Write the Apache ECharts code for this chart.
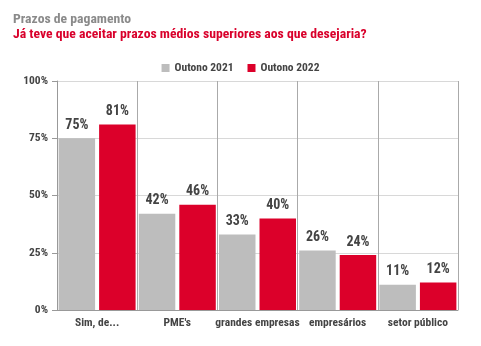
<!DOCTYPE html>
<html><head><meta charset="utf-8">
<script src="https://cdn.jsdelivr.net/npm/echarts@6/dist/echarts.min.js"></script>
<style>html,body{margin:0;padding:0;background:#fff}#c{width:481px;height:346px}</style>
</head><body><div id="c"></div>
<script>
const categories = ["Sim, de...", "PME's", "grandes empresas", "empresários", "setor público"];
const outono2021 = [75, 42, 33, 26, 11];
const outono2022 = [81, 46, 40, 24, 12];
const seriesNames = ["Outono 2021", "Outono 2022"];
const yTicks = [0, 25, 50, 75, 100];

const F = '"Roboto Condensed", sans-serif';
const chart = echarts.init(document.getElementById('c'), null, {renderer: 'canvas'});
const labelStyle = {show: true, position: 'top', formatter: '{c}%', fontFamily: F, fontWeight: 'bold', fontSize: 14, color: '#444', distance: 6};
chart.setOption({
  animation: false,
  title: [
    {text: 'Prazos de pagamento', left: 8, top: 8, textStyle: {fontFamily: F, fontWeight: 'bold', fontSize: 13.7, color: '#8a8a8a'}},
    {text: 'Já teve que aceitar prazos médios superiores aos que desejaria?', left: 8, top: 23, textStyle: {fontFamily: F, fontWeight: 'bold', fontSize: 13.7, color: '#d9002b'}}
  ],
  legend: {
    data: seriesNames, top: 57, left: 'center', itemWidth: 8, itemHeight: 8, itemGap: 14, icon: 'rect',
    textStyle: {fontFamily: F, fontWeight: 'bold', fontSize: 11.5, color: '#444'}
  },
  grid: {left: 57, right: 23, top: 81, bottom: 36, containLabel: false},
  xAxis: {
    type: 'category', data: categories,
    axisLine: {show: true, lineStyle: {color: '#999'}},
    axisTick: {show: false},
    splitLine: {show: true, lineStyle: {color: '#aaa', width: 1}},
    axisLabel: {fontFamily: F, fontWeight: 'bold', fontSize: 11.5, color: '#444', margin: 7, interval: 0}
  },
  yAxis: {
    type: 'value', min: 0, max: 100, interval: 25,
    axisLine: {show: true, lineStyle: {color: '#999'}},
    axisTick: {show: true, length: 5, lineStyle: {color: '#999'}},
    splitLine: {show: true, lineStyle: {color: '#d8d8d8'}},
    axisLabel: {fontFamily: F, fontWeight: 'bold', fontSize: 11.5, color: '#444', margin: 9, formatter: v => v + '%'}
  },
  series: [
    {name: seriesNames[0], type: 'bar', data: outono2021, itemStyle: {color: '#bdbdbd'}, barGap: '11%', barCategoryGap: '4%', label: labelStyle},
    {name: seriesNames[1], type: 'bar', data: outono2022, itemStyle: {color: '#dc002a'}, label: labelStyle}
  ]
});
</script></body></html>
